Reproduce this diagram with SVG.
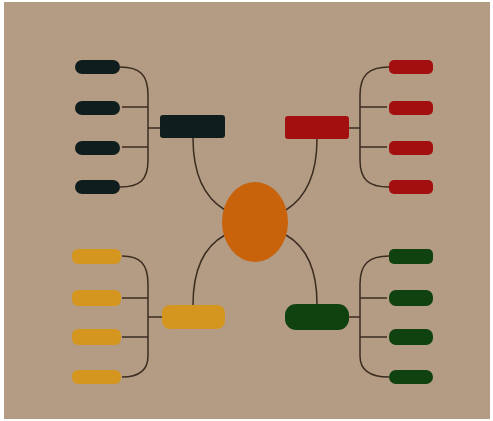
<svg xmlns="http://www.w3.org/2000/svg" width="493" height="421" viewBox="0 0 493 421">
<style>
.ln{fill:none;stroke:#3b2c20;stroke-width:1.5}
.k{fill:#0f1d1c}.r{fill:#a30f0f}.y{fill:#d4961e}.g{fill:#0f420f}
</style>
<rect width="493" height="421" fill="#ffffff"/>
<rect x="4" y="2" width="486" height="417" fill="#b49b84"/>
<g id="connectors">
<path class="ln" d="M193 138 C193 175 205 198 225 210"/>
<path class="ln" d="M317 139 C317 175 305 198 286 210"/>
<path class="ln" d="M193 305 C193 268 205 246 225 235"/>
<path class="ln" d="M317 304 C317 268 305 246 286 235"/>
<path class="ln" d="M120 67 C140 67 148 75 148 95 L148 160 C148 180 140 187 120 187"/>
<path class="ln" d="M122 107 H148 M122 147 H148 M148 128 H160"/>
<path class="ln" d="M389 67 C369 67 360 75 360 95 L360 160 C360 180 369 187 389 187"/>
<path class="ln" d="M360 107 H387 M360 147 H387 M349 128 H360"/>
<path class="ln" d="M122 256 C140 256 148 264 148 284 L148 356 C148 370 140 377 122 377"/>
<path class="ln" d="M122 298 H148 M122 337 H148 M148 317 H162"/>
<path class="ln" d="M389 256 C369 256 360 264 360 284 L360 356 C360 370 369 377 389 377"/>
<path class="ln" d="M360 298 H387 M360 337 H387 M349 317 H360"/>
</g>
<g id="center"><ellipse cx="255" cy="222" rx="33" ry="40" fill="#c8620b"/></g>
<g id="black-main"><rect class="k" x="160" y="115" width="65" height="23" rx="3"/></g>
<g id="black-leaves">
<rect class="k" x="75" y="60" width="45" height="14" rx="7"/>
<rect class="k" x="75" y="101" width="45" height="14" rx="7"/>
<rect class="k" x="75" y="141" width="45" height="14" rx="7"/>
<rect class="k" x="75" y="180" width="45" height="14" rx="7"/>
</g>
<g id="red-main"><rect class="r" x="285" y="116" width="64" height="23" rx="3"/></g>
<g id="red-leaves">
<rect class="r" x="389" y="60" width="44" height="14" rx="5"/>
<rect class="r" x="389" y="101" width="44" height="14" rx="5"/>
<rect class="r" x="389" y="141" width="44" height="14" rx="5"/>
<rect class="r" x="389" y="180" width="44" height="14" rx="5"/>
</g>
<g id="yellow-main"><rect class="y" x="162" y="305" width="63" height="24" rx="8"/></g>
<g id="yellow-leaves">
<rect class="y" x="72" y="249" width="49" height="15" rx="6"/>
<rect class="y" x="72" y="290" width="49" height="16" rx="6"/>
<rect class="y" x="72" y="329" width="49" height="16" rx="6"/>
<rect class="y" x="72" y="370" width="49" height="14" rx="6"/>
</g>
<g id="green-main"><rect class="g" x="285" y="304" width="64" height="26" rx="11"/></g>
<g id="green-leaves">
<rect class="g" x="389" y="249" width="44" height="15" rx="5"/>
<rect class="g" x="389" y="290" width="44" height="16" rx="7"/>
<rect class="g" x="389" y="329" width="44" height="16" rx="7"/>
<rect class="g" x="389" y="370" width="44" height="14" rx="7"/>
</g>
</svg>
